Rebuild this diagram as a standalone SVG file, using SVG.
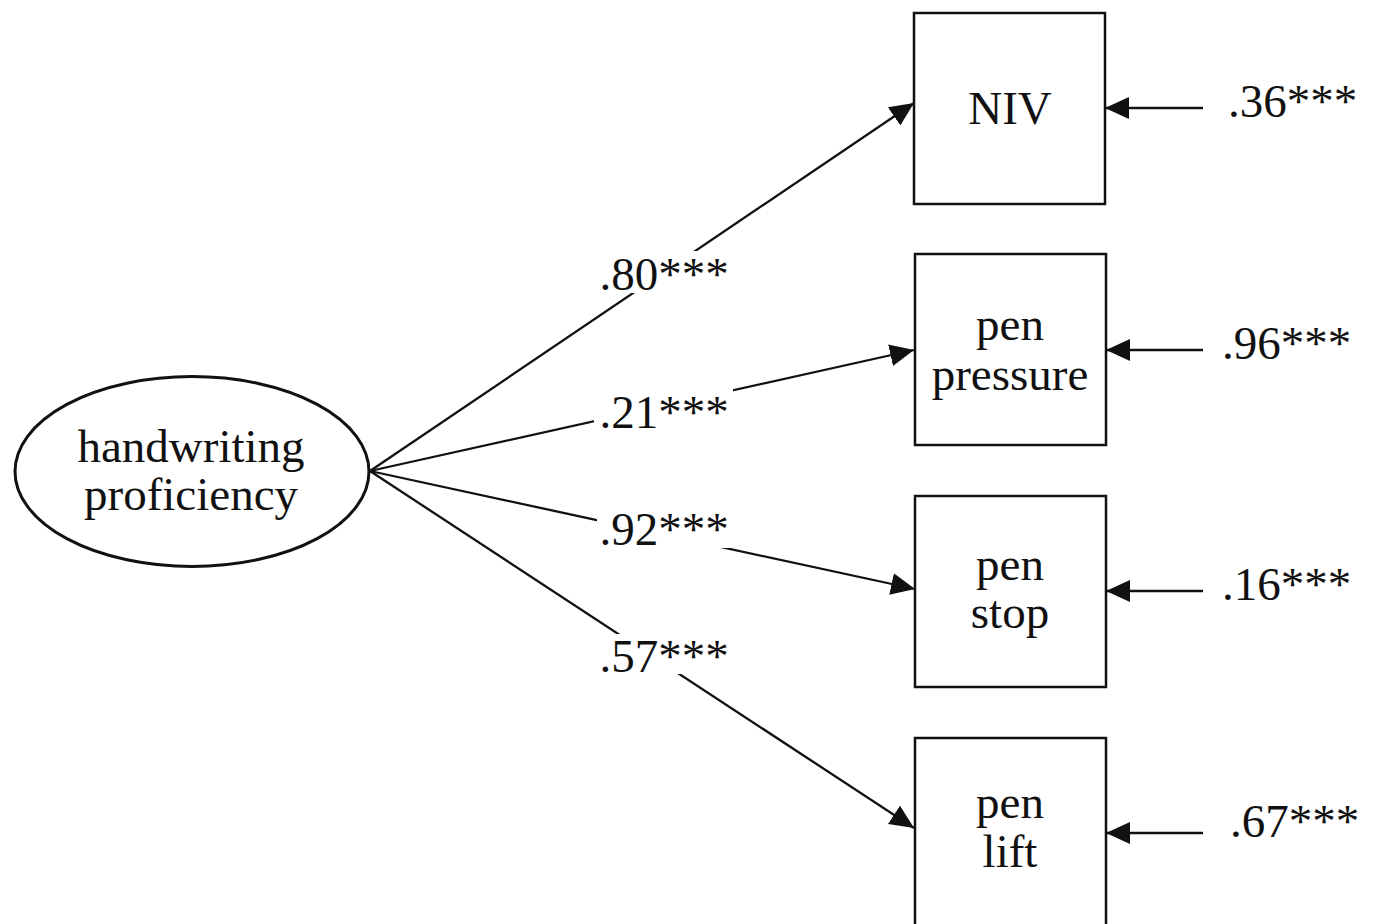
<svg xmlns="http://www.w3.org/2000/svg" width="1374" height="924" viewBox="0 0 1374 924">
<style>
text{font-family:"Liberation Serif","Times New Roman",serif;font-size:47px;fill:#111}
.c{text-anchor:middle}
.box{fill:#fff;stroke:#111;stroke-width:2.5}
.ln{stroke:#111;stroke-width:2.3;fill:none}
.mask{fill:#fff}
</style>
<defs>
<marker id="ah" markerUnits="userSpaceOnUse" markerWidth="24" markerHeight="22" refX="24" refY="11" orient="auto">
<path d="M0,0 L24,11 L0,22 Z" fill="#111"/>
</marker>
</defs>
<rect width="1374" height="924" fill="#fff"/>
<g id="connectors">
<line class="ln" x1="370" y1="471" x2="914" y2="103" marker-end="url(#ah)"/>
<line class="ln" x1="370" y1="471" x2="914" y2="350" marker-end="url(#ah)"/>
<line class="ln" x1="370" y1="471" x2="915" y2="589" marker-end="url(#ah)"/>
<line class="ln" x1="370" y1="471" x2="914" y2="828" marker-end="url(#ah)"/>
<line class="ln" x1="1203" y1="108" x2="1105" y2="108" marker-end="url(#ah)"/>
<line class="ln" x1="1203" y1="350" x2="1106" y2="350" marker-end="url(#ah)"/>
<line class="ln" x1="1203" y1="591" x2="1106" y2="591" marker-end="url(#ah)"/>
<line class="ln" x1="1203" y1="833" x2="1106" y2="833" marker-end="url(#ah)"/>
<rect class="mask" x="596" y="251" width="138" height="42"/>
<rect class="mask" x="594" y="389" width="139" height="42"/>
<rect class="mask" x="597" y="510" width="135" height="38"/>
<rect class="mask" x="614" y="634" width="120" height="40"/>
<text class="c" x="664" y="290">.80***</text>
<text class="c" x="664" y="428">.21***</text>
<text class="c" x="664" y="545">.92***</text>
<text class="c" x="664" y="672">.57***</text>
<text x="1228" y="117">.36***</text>
<text x="1222" y="359">.96***</text>
<text x="1222" y="600">.16***</text>
<text x="1230" y="837">.67***</text>
</g>
<g id="latent">
<ellipse cx="192" cy="471.5" rx="177" ry="95" fill="#fff" stroke="#111" stroke-width="3"/>
<text class="c" x="191" y="462">handwriting</text>
<text class="c" x="191" y="510">proficiency</text>
</g>
<g id="niv">
<rect class="box" x="914" y="13" width="191" height="191"/>
<text class="c" x="1010" y="124">NIV</text>
</g>
<g id="pen-pressure">
<rect class="box" x="915" y="254" width="191" height="191"/>
<text class="c" x="1010" y="340">pen</text>
<text class="c" x="1010" y="390">pressure</text>
</g>
<g id="pen-stop">
<rect class="box" x="915" y="496" width="191" height="191"/>
<text class="c" x="1010" y="580">pen</text>
<text class="c" x="1010" y="628">stop</text>
</g>
<g id="pen-lift">
<rect class="box" x="915" y="738" width="191" height="191"/>
<text class="c" x="1010" y="818">pen</text>
<text class="c" x="1010" y="867">lift</text>
</g>
</svg>
